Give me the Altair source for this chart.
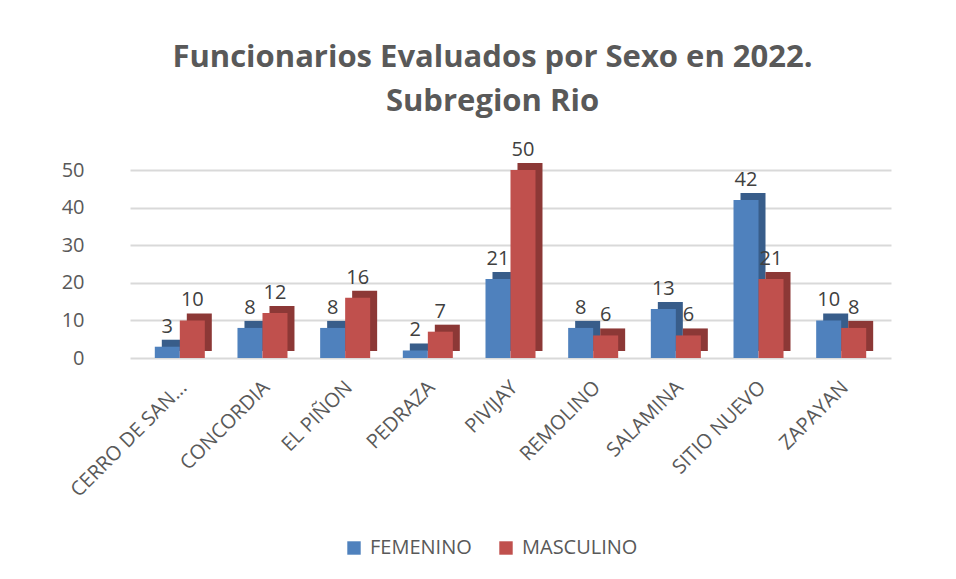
import altair as alt
import pandas as pd

categories = ["CERRO DE SAN...", "CONCORDIA", "EL PIÑON", "PEDRAZA", "PIVIJAY",
              "REMOLINO", "SALAMINA", "SITIO NUEVO", "ZAPAYAN"]
femenino = [3, 8, 8, 2, 21, 8, 13, 42, 10]
masculino = [10, 12, 16, 7, 50, 6, 6, 21, 8]
series = ["FEMENINO", "MASCULINO"]
front_colors = ["#4F81BD", "#C0504D"]
side_colors = ["#385D8A", "#8C3836"]
y_ticks = [0, 10, 20, 30, 40, 50]

rows = []
for c, f, m in zip(categories, femenino, masculino):
    rows.append({"cat": c, "sexo": series[0], "valor": f})
    rows.append({"cat": c, "sexo": series[1], "valor": m})
df = pd.DataFrame(rows)

FONT = "Open Sans"
GRAY = "#595959"
DEPTH = 7

x_enc = alt.X(
    "cat:N", sort=categories,
    scale=alt.Scale(paddingInner=0.395, paddingOuter=0.3),
    axis=alt.Axis(title=None, labelAngle=-45, labelAlign="right", labelBaseline="middle",
                  labelFontSize=20, labelColor=GRAY, labelFont=FONT, labelPadding=26,
                  labelOffset=4, domain=False, ticks=False),
)
y_enc = alt.Y(
    "valor:Q", scale=alt.Scale(domain=[0, 50], nice=False),
    axis=alt.Axis(title=None, values=y_ticks, grid=True, gridColor="#D9D9D9", gridWidth=2,
                  domain=False, ticks=False, labelPadding=46, labelFontSize=20,
                  labelColor=GRAY, labelFont=FONT),
)

base = alt.Chart(df)

side = base.mark_bar(yOffset=-DEPTH, y2Offset=-DEPTH).encode(
    x=x_enc,
    xOffset=alt.XOffset("sexo:N", sort=series,
                        scale=alt.Scale(paddingInner=0, range=[DEPTH, 50 + DEPTH])),
    y=y_enc,
    color=alt.Color("sexo:N", sort=series,
                    scale=alt.Scale(domain=series, range=side_colors), legend=None),
)

xoff = alt.XOffset("sexo:N", sort=series, scale=alt.Scale(paddingInner=0))

front = base.mark_bar().encode(
    x=x_enc, xOffset=xoff, y=y_enc,
    color=alt.Color(
        "sexo:N", sort=series,
        scale=alt.Scale(domain=series, range=front_colors),
        legend=alt.Legend(title=None, orient="none", legendX=214, legendY=368,
                          direction="horizontal", symbolType="square", symbolSize=180,
                          symbolStrokeWidth=0, labelFontSize=20, labelFont=FONT,
                          labelColor=GRAY, columnPadding=24, labelOffset=6),
    ),
)

labels = base.mark_text(baseline="bottom", dy=-10, fontSize=20, font=FONT, color="#404040").encode(
    x=x_enc, xOffset=xoff, y=y_enc, text="valor:Q",
)

chart = (
    alt.layer(side, front, labels)
    .resolve_scale(color="independent", xOffset="independent")
    .properties(
        width=761, height=188,
        autosize=alt.AutoSizeParams(type="none"),
        padding={"left": 122, "top": 162, "right": 57, "bottom": 213},
        title=alt.Title(
            ["Funcionarios Evaluados por Sexo en 2022.", "Subregion Rio"],
            fontSize=31, font=FONT, fontWeight="bold", color=GRAY, lineHeight=44,
            anchor="middle", dx=-18, offset=22,
        ),
        background="white",
    )
    .configure_view(stroke=None)
)

chart.save("out.html", embed_options={"renderer": "svg", "actions": False})
